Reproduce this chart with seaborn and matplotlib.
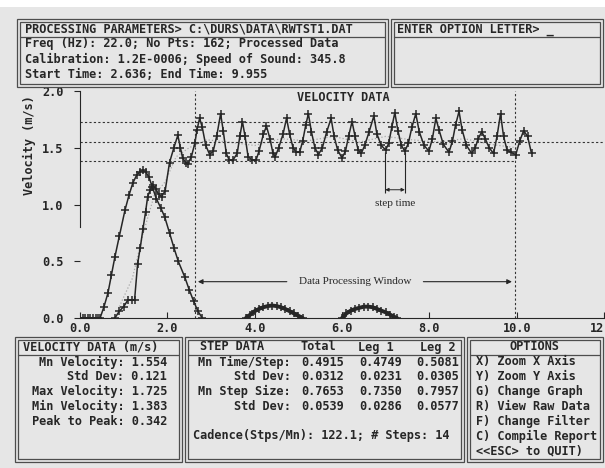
import matplotlib
matplotlib.use("Agg")
import matplotlib.pyplot as plt
from matplotlib.patches import Rectangle
from matplotlib.lines import Line2D
import seaborn as sns

# ---- data ----
# leg A: first hump (t, v)
ta = [0.0, 0.06, 0.12, 0.18, 0.24, 0.30, 0.36, 0.42, 0.46, 0.55, 0.64, 0.72, 0.80, 0.90,
      1.03, 1.12, 1.21, 1.30, 1.38, 1.44, 1.50, 1.58, 1.66, 1.75, 1.85, 1.94, 2.05, 2.15,
      2.25, 2.40, 2.50, 2.60, 2.70, 2.80]
va = [0.0, 0.0, 0.0, 0.0, 0.0, 0.0, 0.0, 0.0, 0.0, 0.10, 0.22, 0.38, 0.54, 0.72,
      0.95, 1.08, 1.19, 1.26, 1.29, 1.30, 1.29, 1.24, 1.15, 1.05, 0.97, 0.89, 0.75, 0.62,
      0.50, 0.36, 0.25, 0.15, 0.06, 0.0]

# leg B: main walking trace
tb = [0.80, 0.90, 1.00, 1.10, 1.18, 1.25, 1.32, 1.38, 1.44, 1.50, 1.55, 1.61, 1.67, 1.73,
      1.80, 1.87, 1.95, 2.05, 2.15, 2.24, 2.30, 2.35, 2.42, 2.47, 2.55, 2.63, 2.68, 2.74,
      2.80, 2.88, 2.97, 3.05, 3.13, 3.22, 3.28, 3.35, 3.42, 3.50, 3.60, 3.66, 3.72, 3.78,
      3.85, 3.95, 4.03, 4.10, 4.20, 4.27, 4.35, 4.42, 4.47, 4.55, 4.65, 4.73, 4.80, 4.88,
      4.95, 5.03, 5.10, 5.17, 5.23, 5.30, 5.38, 5.46, 5.55, 5.65, 5.75, 5.82, 5.90, 6.00,
      6.08, 6.15, 6.23, 6.30, 6.37, 6.44, 6.52, 6.62, 6.73, 6.80, 6.90, 7.00, 7.07, 7.14,
      7.21, 7.28, 7.36, 7.44, 7.52, 7.60, 7.69, 7.77, 7.88, 7.99, 8.07, 8.15, 8.22, 8.32,
      8.45, 8.53, 8.60, 8.68, 8.75, 8.85, 8.97, 9.05, 9.12, 9.20, 9.28, 9.37, 9.47, 9.55,
      9.63, 9.70, 9.78, 9.86, 9.98, 10.07, 10.16, 10.25, 10.34]
vb = [0.0, 0.06, 0.10, 0.16, 0.16, 0.16, 0.48, 0.62, 0.78, 0.93, 1.07, 1.13, 1.17, 1.14,
      1.09, 1.07, 1.12, 1.37, 1.50, 1.61, 1.50, 1.41, 1.37, 1.36, 1.42, 1.54, 1.66, 1.76,
      1.68, 1.52, 1.44, 1.47, 1.60, 1.80, 1.65, 1.45, 1.39, 1.39, 1.45, 1.60, 1.73, 1.60,
      1.42, 1.39, 1.39, 1.47, 1.62, 1.69, 1.58, 1.45, 1.42, 1.50, 1.62, 1.76, 1.62, 1.50,
      1.46, 1.46, 1.56, 1.70, 1.80, 1.64, 1.50, 1.44, 1.50, 1.64, 1.76, 1.60, 1.48, 1.41,
      1.47, 1.60, 1.73, 1.60, 1.48, 1.45, 1.52, 1.64, 1.78, 1.62, 1.52, 1.48, 1.54, 1.68,
      1.81, 1.65, 1.52, 1.47, 1.54, 1.68, 1.80, 1.64, 1.52, 1.47, 1.58, 1.76, 1.66, 1.53,
      1.46, 1.56, 1.70, 1.82, 1.66, 1.52, 1.45, 1.50, 1.58, 1.64, 1.58, 1.50, 1.45, 1.60,
      1.80, 1.60, 1.48, 1.46, 1.44, 1.56, 1.65, 1.60, 1.45]

# faint filtered trace
tf = [0.9, 1.2, 1.45, 1.7, 1.95, 2.2, 2.5, 2.9, 3.4, 4.0, 4.6, 5.2, 5.8, 6.4, 7.0, 7.6,
      8.2, 8.8, 9.4, 10.0]
vf = [0.10, 0.35, 0.75, 1.08, 1.20, 1.42, 1.50, 1.57, 1.55, 1.52, 1.58, 1.56, 1.60, 1.55,
      1.60, 1.57, 1.55, 1.58, 1.53, 1.50]

# small humps near the floor
th1 = [3.80, 3.90, 4.00, 4.10, 4.20, 4.30, 4.40, 4.50, 4.60, 4.70, 4.80, 4.90, 5.00, 5.10]
vh1 = [0.0, 0.03, 0.06, 0.08, 0.095, 0.105, 0.11, 0.105, 0.095, 0.08, 0.06, 0.04, 0.02, 0.0]
th2 = [6.00, 6.10, 6.20, 6.30, 6.40, 6.50, 6.60, 6.70, 6.80, 6.90, 7.00, 7.10, 7.20, 7.26]
vh2 = [0.0, 0.04, 0.065, 0.08, 0.09, 0.10, 0.10, 0.095, 0.08, 0.065, 0.05, 0.03, 0.01, 0.0]

max_vel, mean_vel, min_vel = 1.725, 1.554, 1.383
start_time, end_time = 2.636, 9.955
step_marks = [6.99, 7.44]

xticks = [0, 2, 4, 6, 8, 10, 12]
yticks = [0.0, 0.5, 1.0, 1.5, 2.0]

# ---- look ----
BG = "#e6e6e6"
INK = "#262626"
MONO = "DejaVu Sans Mono"
SERIF = "Liberation Serif"
FS = 8.6

sns.set_style("ticks", {"axes.facecolor": BG, "figure.facecolor": BG,
                        "axes.edgecolor": INK})
plt.rcParams["font.family"] = [MONO, "DejaVu Sans"]

W, H = 605, 468
fig = plt.figure(figsize=(W / 100, H / 100), dpi=100)


def fx(px):
    return px / W


def fy(py):
    return 1 - py / H


def txt(x, y, s, ha="left", **kw):
    fig.text(fx(x), fy(y), s, ha=ha, va="center", family=MONO, weight="bold",
             size=FS, color=INK, **kw)


def panel(x0, y0, x1, y1, seps=()):
    for off in (0, 3):
        fig.add_artist(Rectangle((fx(x0 + off), fy(y1 - off)), (x1 - x0 - 2 * off) / W,
                                 (y1 - y0 - 2 * off) / H, transform=fig.transFigure,
                                 fill=False, edgecolor="#4d4d4d", lw=0.9))
    for s in seps:
        fig.add_artist(Line2D([fx(x0 + 3), fx(x1 - 3)], [fy(s), fy(s)],
                              transform=fig.transFigure, color="#4d4d4d", lw=0.9))


# white strip at the top of the screenshot
fig.add_artist(Rectangle((0, fy(7)), 1, 7 / H, transform=fig.transFigure,
                         color="white", lw=0))

# ---- chart ----
ax = fig.add_axes([fx(80), fy(318), 524 / W, 227 / H])
ax.set_facecolor(BG)

mk = dict(marker="+", markersize=5.5, markeredgewidth=1.1, markeredgecolor=INK,
          markerfacecolor=INK, sort=False, estimator=None, ax=ax)
sns.lineplot(x=tf, y=vf, color="#a8a8a8", lw=0.9, linestyle=":", sort=False,
             estimator=None, ax=ax)
sns.lineplot(x=ta, y=va, color=INK, lw=1.1, **mk)
sns.lineplot(x=tb, y=vb, color=INK, lw=1.1, **mk)
sns.lineplot(x=th1, y=vh1, color=INK, lw=2.8, **mk)
sns.lineplot(x=th2, y=vh2, color=INK, lw=2.8, **mk)

dot = dict(color="#333333", lw=0.8, linestyle=(0, (2, 2)))
ax.hlines([max_vel, min_vel], 0, end_time, **dot)
ax.hlines([mean_vel], 0, 12, **dot)
ax.vlines([start_time, end_time], 0, 2.0, **dot)

# data processing window
ax.annotate("", xy=(start_time, 0.32), xytext=(4.8, 0.32),
            arrowprops=dict(arrowstyle="-|>", lw=0.8, color=INK, mutation_scale=7))
ax.annotate("", xy=(end_time, 0.32), xytext=(7.8, 0.32),
            arrowprops=dict(arrowstyle="-|>", lw=0.8, color=INK, mutation_scale=7))
ax.text(6.3, 0.32, "Data Processing Window", ha="center", va="center",
        family=SERIF, size=8, color=INK)

# step time
ax.vlines(step_marks, 1.1, 1.46, color=INK, lw=0.8)
ax.annotate("", xy=(step_marks[0], 1.13), xytext=(step_marks[1], 1.13),
            arrowprops=dict(arrowstyle="<|-|>", lw=0.7, color=INK, mutation_scale=5,
                            shrinkA=0, shrinkB=0))
ax.text(sum(step_marks) / 2, 1.01, "step time", ha="center", va="center",
        family=SERIF, size=8, color=INK)

ax.text(6.02, 1.94, "VELOCITY DATA", ha="center", va="center", family=MONO,
        weight="bold", size=FS, color=INK)

ax.set_xlim(0, 12)
ax.set_ylim(0, 2.0)
ax.set_xticks(xticks)
ax.set_xticklabels([f"{v:.1f}" for v in xticks])
ax.set_yticks(yticks)
ax.set_yticklabels([f"{v:.1f}" for v in yticks])
ax.tick_params(axis="x", direction="in", length=4, pad=3, colors=INK)
ax.tick_params(axis="y", direction="out", length=4, pad=8, colors=INK)
for lab in ax.get_xticklabels() + ax.get_yticklabels():
    lab.set_family(MONO)
    lab.set_weight("bold")
    lab.set_size(FS)
sns.despine(ax=ax)
ax.spines["left"].set_bounds(0.8, 2.0)
ax.set_xlabel("")
ax.set_ylabel("")
txt(29, 145, "Velocity (m/s)", ha="center", rotation=90)

# ---- top panels ----
panel(17, 19, 388, 87, seps=[37])
txt(25, 29, "PROCESSING PARAMETERS> C:\\DURS\\DATA\\RWTST1.DAT")
txt(25, 44, "Freq (Hz): 22.0; No Pts: 162; Processed Data")
txt(25, 59, "Calibration: 1.2E-0006; Speed of Sound: 345.8")
txt(25, 74, "Start Time: 2.636; End Time: 9.955")

panel(391, 19, 603, 87, seps=[37])
txt(397, 29, "ENTER OPTION LETTER> _")

# ---- bottom panels ----
ROW = 14.8
panel(15, 337, 182, 462, seps=[355])
txt(23, 347, "VELOCITY DATA (m/s)")
vel_rows = ["Mn Velocity: 1.554", "Std Dev: 0.121", "Max Velocity: 1.725",
            "Min Velocity: 1.383", "Peak to Peak: 0.342"]
for i, s in enumerate(vel_rows):
    txt(167, 362 + i * ROW, s, ha="right")

panel(185, 337, 464, 462, seps=[355])
txt(200, 347, "STEP DATA")
for xc, s in zip([318, 376, 438], ["Total", "Leg 1", "Leg 2"]):
    txt(xc, 347, s, ha="center")
step_labels = ["Mn Time/Step:", "Std Dev:", "Mn Step Size:", "Std Dev:"]
step_vals = [["0.4915", "0.4749", "0.5081"], ["0.0312", "0.0231", "0.0305"],
             ["0.7653", "0.7350", "0.7957"], ["0.0539", "0.0286", "0.0577"]]
for i, (lab, vals) in enumerate(zip(step_labels, step_vals)):
    y = 362 + i * ROW
    txt(291, y, lab, ha="right")
    for xr, v in zip([344, 402, 459], vals):
        txt(xr, y, v, ha="right")
txt(193, 436, "Cadence(Stps/Mn): 122.1; # Steps: 14")

panel(467, 337, 603, 462, seps=[355])
txt(534, 347, "OPTIONS", ha="center")
options = ["X) Zoom X Axis", "Y) Zoom Y Axis", "G) Change Graph", "R) View Raw Data",
           "F) Change Filter", "C) Compile Report", "<<ESC> to QUIT)"]
for i, s in enumerate(options):
    txt(476, 362 + i * ROW, s)

fig.savefig("out.png", dpi=100, facecolor=BG)
